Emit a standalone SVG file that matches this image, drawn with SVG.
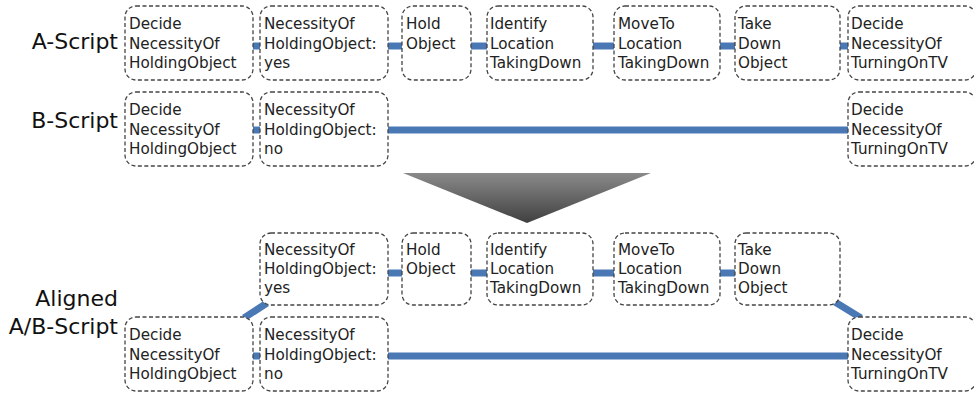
<svg xmlns="http://www.w3.org/2000/svg" width="974" height="393" viewBox="0 0 974 393">
<style>
.box{fill:#fff;stroke:#444;stroke-width:1.3;stroke-dasharray:4 2.5}
.t{font-family:"DejaVu Sans","Noto Sans",sans-serif;font-size:15.2px;fill:#222}
.lbl{font-family:"DejaVu Sans","Noto Sans",sans-serif;font-size:22px;fill:#111;text-anchor:end}
.c{stroke:#4a78b4;stroke-width:7;fill:none}
</style>
<defs>
<linearGradient id="g" x1="0" y1="0" x2="0" y2="1">
<stop offset="0" stop-color="#8a8a8a"/>
<stop offset="1" stop-color="#404040"/>
</linearGradient>
</defs>
<g id="connectors">
<line class="c" x1="253" y1="46" x2="260" y2="46"/>
<line class="c" x1="388" y1="46" x2="402" y2="46"/>
<line class="c" x1="471" y1="46" x2="487" y2="46"/>
<line class="c" x1="593" y1="46" x2="614" y2="46"/>
<line class="c" x1="720" y1="46" x2="735" y2="46"/>
<line class="c" x1="840" y1="46" x2="848" y2="46"/>
<line class="c" x1="253" y1="130" x2="260" y2="130"/>
<line class="c" x1="388" y1="130" x2="848" y2="130"/>
<line class="c" x1="388" y1="273" x2="402" y2="273"/>
<line class="c" x1="471" y1="273" x2="487" y2="273"/>
<line class="c" x1="593" y1="273" x2="614" y2="273"/>
<line class="c" x1="720" y1="273" x2="735" y2="273"/>
<line class="c" x1="253" y1="356" x2="260" y2="356"/>
<line class="c" x1="388" y1="356" x2="848" y2="356"/>
<line class="c" x1="244" y1="318" x2="267" y2="303"/>
<line class="c" x1="835" y1="302" x2="861" y2="318"/>
</g>
<g id="labels">
<text class="lbl" x="118" y="49">A-Script</text>
<text class="lbl" x="118" y="128">B-Script</text>
<text class="lbl" x="118" y="306">Aligned<tspan x="118" dy="28">A/B-Script</tspan></text>
</g>
<polygon id="arrow" points="403,173 651,173 527,223" fill="url(#g)"/>
<g id="a1"><rect class="box" x="125" y="6" width="128" height="74" rx="11"/><text class="t" x="129" y="29">Decide<tspan x="129" dy="19.5">NecessityOf</tspan><tspan x="129" dy="19.5">HoldingObject</tspan></text></g>
<g id="a2"><rect class="box" x="260" y="6" width="128" height="74" rx="11"/><text class="t" x="264" y="29">NecessityOf<tspan x="264" dy="19.5">HoldingObject:</tspan><tspan x="264" dy="19.5">yes</tspan></text></g>
<g id="a3"><rect class="box" x="402" y="6" width="69" height="74" rx="11"/><text class="t" x="406" y="29">Hold<tspan x="406" dy="19.5">Object</tspan></text></g>
<g id="a4"><rect class="box" x="487" y="6" width="106" height="74" rx="11"/><text class="t" x="490" y="29">Identify<tspan x="490" dy="19.5">Location</tspan><tspan x="490" dy="19.5">TakingDown</tspan></text></g>
<g id="a5"><rect class="box" x="614" y="6" width="106" height="74" rx="11"/><text class="t" x="618" y="29">MoveTo<tspan x="618" dy="19.5">Location</tspan><tspan x="618" dy="19.5">TakingDown</tspan></text></g>
<g id="a6"><rect class="box" x="735" y="6" width="105" height="74" rx="11"/><text class="t" x="738" y="29">Take<tspan x="738" dy="19.5">Down</tspan><tspan x="738" dy="19.5">Object</tspan></text></g>
<g id="a7"><rect class="box" x="848" y="6" width="128" height="74" rx="11"/><text class="t" x="851" y="29">Decide<tspan x="851" dy="19.5">NecessityOf</tspan><tspan x="851" dy="19.5">TurningOnTV</tspan></text></g>
<g id="b1"><rect class="box" x="125" y="92" width="128" height="74" rx="11"/><text class="t" x="129" y="115">Decide<tspan x="129" dy="19.5">NecessityOf</tspan><tspan x="129" dy="19.5">HoldingObject</tspan></text></g>
<g id="b2"><rect class="box" x="260" y="92" width="128" height="74" rx="11"/><text class="t" x="264" y="115">NecessityOf<tspan x="264" dy="19.5">HoldingObject:</tspan><tspan x="264" dy="19.5">no</tspan></text></g>
<g id="b7"><rect class="box" x="848" y="92" width="128" height="74" rx="11"/><text class="t" x="851" y="115">Decide<tspan x="851" dy="19.5">NecessityOf</tspan><tspan x="851" dy="19.5">TurningOnTV</tspan></text></g>
<g id="c2"><rect class="box" x="260" y="233" width="128" height="72" rx="11"/><text class="t" x="264" y="255">NecessityOf<tspan x="264" dy="19">HoldingObject:</tspan><tspan x="264" dy="19">yes</tspan></text></g>
<g id="c3"><rect class="box" x="402" y="233" width="69" height="72" rx="11"/><text class="t" x="406" y="255">Hold<tspan x="406" dy="19">Object</tspan></text></g>
<g id="c4"><rect class="box" x="487" y="233" width="106" height="72" rx="11"/><text class="t" x="490" y="255">Identify<tspan x="490" dy="19">Location</tspan><tspan x="490" dy="19">TakingDown</tspan></text></g>
<g id="c5"><rect class="box" x="614" y="233" width="106" height="72" rx="11"/><text class="t" x="618" y="255">MoveTo<tspan x="618" dy="19">Location</tspan><tspan x="618" dy="19">TakingDown</tspan></text></g>
<g id="c6"><rect class="box" x="735" y="233" width="105" height="72" rx="11"/><text class="t" x="738" y="255">Take<tspan x="738" dy="19">Down</tspan><tspan x="738" dy="19">Object</tspan></text></g>
<g id="d1"><rect class="box" x="125" y="317" width="128" height="74" rx="11"/><text class="t" x="129" y="340">Decide<tspan x="129" dy="19.5">NecessityOf</tspan><tspan x="129" dy="19.5">HoldingObject</tspan></text></g>
<g id="d2"><rect class="box" x="260" y="317" width="128" height="74" rx="11"/><text class="t" x="264" y="340">NecessityOf<tspan x="264" dy="19.5">HoldingObject:</tspan><tspan x="264" dy="19.5">no</tspan></text></g>
<g id="d7"><rect class="box" x="848" y="317" width="128" height="74" rx="11"/><text class="t" x="851" y="340">Decide<tspan x="851" dy="19.5">NecessityOf</tspan><tspan x="851" dy="19.5">TurningOnTV</tspan></text></g>
</svg>
